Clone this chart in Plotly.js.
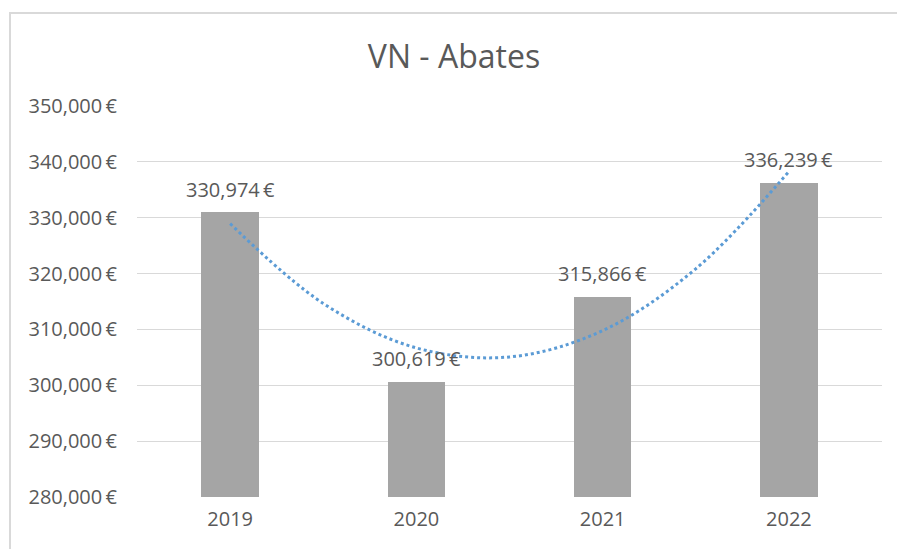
<!DOCTYPE html>
<html>
<head>
<meta charset="utf-8">
<script src="https://cdn.plot.ly/plotly-3.0.1.min.js"></script>
<style>
  html, body { margin: 0; padding: 0; width: 897px; height: 549px; overflow: hidden; background: #fff; }
  #frame { position: absolute; left: 9px; top: 12px; width: 920px; height: 580px; border: 2px solid #D9D9D9; box-sizing: border-box; }
  #chart { position: absolute; left: 0; top: 0; width: 897px; height: 549px; }
</style>
</head>
<body>
<div id="frame"></div>
<div id="chart"></div>
<script>
const years = [2019, 2020, 2021, 2022];
const values = [330974, 300619, 315866, 336239];
const yTicks = [280000, 290000, 300000, 310000, 320000, 330000, 340000, 350000];
// Polynomial (order 2) trendline
const trendX = [2019, 2019.5, 2020, 2020.5, 2021, 2021.5, 2022];
const trendY = [328950, 314650, 306690, 305072, 309794, 320858, 338263];

const fmt = v => v.toLocaleString('en-US') + '\u2009€';
const FONT = 'Open Sans, sans-serif';
const GREY = '#595959';

const bars = {
  type: 'bar', x: years, y: values,
  marker: { color: '#A5A5A5' }, width: 0.31,
  hoverinfo: 'skip', showlegend: false
};
const trend = {
  type: 'scatter', mode: 'lines', x: trendX, y: trendY,
  line: { color: '#5B9BD5', width: 3, dash: 'dot', shape: 'spline' },
  hoverinfo: 'skip', showlegend: false
};

const annotations = years.map((yr, i) => ({
  x: yr, y: values[i], xref: 'x', yref: 'y',
  text: fmt(values[i]), showarrow: false, yshift: 23,
  font: { family: FONT, size: 20, color: GREY }
}));

const layout = {
  width: 897, height: 549,
  margin: { l: 137, r: 15, t: 106, b: 52 },
  paper_bgcolor: 'rgba(0,0,0,0)', plot_bgcolor: 'rgba(0,0,0,0)',
  title: { text: 'VN - Abates', x: 454/897, xanchor: 'center', y: 1 - 57/549, yanchor: 'middle', yref: 'container',
           font: { family: FONT, size: 32, color: GREY } },
  xaxis: { range: [2018.5, 2022.5], tickvals: years, ticktext: years.map(String),
           showgrid: false, zeroline: false, showline: false, ticks: '',
           tickfont: { family: FONT, size: 20, color: GREY }, ticklabelstandoff: 8 },
  yaxis: { range: [280000, 350000], tickvals: yTicks, ticktext: yTicks.map(fmt),
           showgrid: true, gridcolor: '#D9D9D9', gridwidth: 1, zeroline: false, showline: false, ticks: '',
           tickfont: { family: FONT, size: 20, color: GREY }, ticklabelstandoff: 19 },
  annotations: annotations,
  bargap: 0
};

Plotly.newPlot('chart', [bars, trend], layout, { staticPlot: true, displayModeBar: false });
</script>
</body>
</html>
